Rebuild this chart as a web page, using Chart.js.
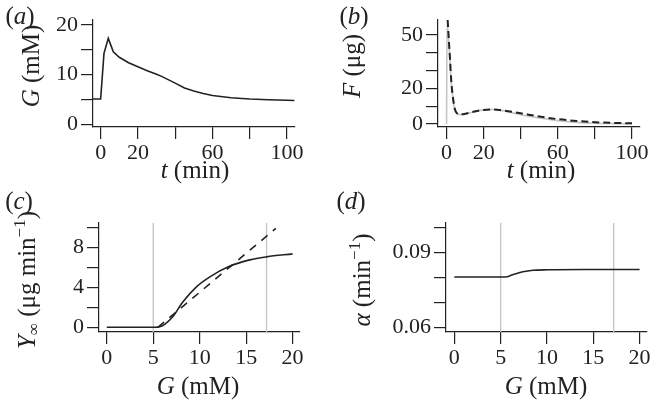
<!DOCTYPE html>
<html>
<head>
<meta charset="utf-8">
<script src="https://cdn.jsdelivr.net/npm/chart.js@4"></script>
<style>
  body { margin: 0; background: #fff; }
  #quadro { position: relative; width: 654px; height: 402px; }
  #quadro canvas { position: absolute; left: 0; top: 0; }
</style>
</head>
<body>
<div id="quadro">
  <canvas id="painelA" width="654" height="402"></canvas>
  <canvas id="painelB" width="654" height="402"></canvas>
  <canvas id="painelC" width="654" height="402"></canvas>
  <canvas id="painelD" width="654" height="402"></canvas>
</div>
<script>
// ---- dados ----
// (a) glicose G (mM) ao longo do tempo t (min)
const tempoA = [-4.1, 0, 1.8, 4.1, 6.8, 10, 15, 20, 25, 30, 33, 40, 45, 50, 55, 60, 70, 80, 90, 100, 104];
const glicoseA = [5.1, 5.1, 14.3, 17.3, 14.6, 13.5, 12.4, 11.6, 10.8, 10.1, 9.6, 8.3, 7.3, 6.7, 6.2, 5.8, 5.35, 5.1, 4.95, 4.85, 4.8];

// (b) F (µg): curva tracejada e curva cinza
const tempoBTracejado = [0.6, 1.2, 1.9, 2.5, 3.2, 4, 4.6, 5.5, 6.5, 8, 10, 15, 20, 25, 30, 40, 50, 60, 70, 80, 90, 100];
const fBTracejado = [58.4, 48, 36, 25, 17, 11, 8, 6.2, 5.5, 5.4, 5.7, 7.0, 7.9, 8.1, 7.7, 6.0, 4.2, 2.7, 1.7, 1.0, 0.6, 0.4];
const tempoBCinza = [0, 0.3, 1.2, 1.9, 2.5, 3.2, 4, 4.6, 5.5, 6.5, 8, 10, 15, 20, 25, 30, 40, 50, 60, 70, 80, 90, 100];
const fBCinza = [0, 56, 47, 35, 24, 16.5, 10.5, 7.6, 6.0, 5.4, 5.3, 5.6, 6.9, 7.9, 8.1, 7.5, 5.2, 3.4, 1.9, 0.9, 0.4, 0.2, 0.1];

// (c) Y∞ em função de G
const gC = [0, 5.2, 5.7, 6.3, 7.1, 8.2, 9.65, 11.1, 13.2, 15.4, 17.2, 20];
const yC = [0, 0, 0.05, 0.35, 1.05, 2.55, 4.05, 5.05, 6.1, 6.75, 7.05, 7.35];
const gCTracejado = [5.5, 18.2];
const yCTracejado = [0, 9.9];

// (d) α em função de G
const gD = [0, 5.5, 6.3, 7.4, 8.5, 10, 14, 20];
const alfaD = [0.0802, 0.0802, 0.0811, 0.0823, 0.0829, 0.0831, 0.0832, 0.0832];

// linhas verticais cinza (G basal e G máximo)
const linhasG = [5.0, 17.2];

// marcas e rótulos dos eixos
const ticksTempo = [0, 20, 40, 60, 80, 100];
const rotulosTempo = ['0', '20', '', '60', '', '100'];
const ticksGA = [0, 5, 10, 15, 20];
const rotulosGA = ['0', '', '10', '', '20'];
const ticksF = [0, 10, 20, 30, 40, 50];
const rotulosF = ['0', '', '20', '', '', '50'];
const ticksG = [0, 5, 10, 15, 20];
const rotulosG = ['0', '5', '10', '15', '20'];
const ticksY = [0, 2, 4, 6, 8, 10];
const rotulosY = ['0', '', '4', '', '8', ''];
const ticksAlfa = [0.06, 0.07, 0.08, 0.09, 0.10];
const rotulosAlfa = ['0.06', '', '', '0.09', ''];

const SERIF = '"Liberation Serif", "DejaVu Serif", serif';
const COR_EIXO = '#222';
const COR_CINZA = '#c4c4c4';
const LARG_Y = 70;   // largura reservada para o eixo y
const ALT_X = 40;    // altura reservada para o eixo x

// junta dois arrays em pontos {x, y}
function pontos(xs, ys) {
  return xs.map((x, i) => ({ x: x, y: ys[i] }));
}

// eixo no estilo "destacado": só marcas para fora, sem grade
function eixo(min, max, valores, rotulos, horizontal) {
  return {
    type: 'linear',
    min: min,
    max: max,
    border: { display: true, color: COR_EIXO, width: 1.2 },
    grid: { drawOnChartArea: false, drawTicks: true, tickLength: 12, color: COR_EIXO, lineWidth: 1.2 },
    ticks: {
      autoSkip: false,
      maxRotation: 0,
      padding: horizontal ? 1 : 3,
      color: COR_EIXO,
      font: { family: SERIF, size: 22 },
      callback: (v, i) => rotulos[i]
    },
    afterBuildTicks: s => { s.ticks = valores.map(v => ({ value: v })); },
    afterFit: s => { if (horizontal) s.height = ALT_X; else s.width = LARG_Y; }
  };
}

// escreve texto com partes em itálico / sobrescrito / subscrito
function desenhaTexto(ctx, item) {
  const base = 25;
  const pecas = item.partes.map(p => {
    const pequeno = p.sup || p.sub;
    const tam = pequeno ? base * 0.68 : base;
    const fonte = (p.i ? 'italic ' : '') + tam + 'px ' + SERIF;
    ctx.font = fonte;
    return { t: p.t, fonte: fonte, w: ctx.measureText(p.t).width, dy: p.sup ? -base * 0.3 : (p.sub ? base * 0.25 : 0) };
  });
  const total = pecas.reduce((s, p) => s + p.w, 0);
  ctx.save();
  ctx.translate(item.x, item.y);
  if (item.rot) ctx.rotate(-Math.PI / 2);
  ctx.textBaseline = 'middle';
  ctx.textAlign = 'left';
  ctx.fillStyle = COR_EIXO;
  let x = -total / 2;
  pecas.forEach(p => {
    ctx.font = p.fonte;
    ctx.fillText(p.t, x, p.dy);
    x += p.w;
  });
  ctx.restore();
}

function pluginTextos(itens) {
  return {
    id: 'textos',
    afterDraw(chart) {
      itens.forEach(item => desenhaTexto(chart.ctx, item));
    }
  };
}

function linhaVertical(g, yMin, yMax) {
  return {
    data: [{ x: g, y: yMin }, { x: g, y: yMax }],
    borderColor: COR_CINZA,
    borderWidth: 1.3,
    pointRadius: 0
  };
}

// area = [esquerda, direita, topo, base] da área de plotagem, em pixels da página
function criaPainel(id, datasets, escalaX, escalaY, area, textos) {
  const padding = {
    left: area[0] - LARG_Y,
    right: 654 - area[1],
    top: area[2],
    bottom: 402 - area[3] - ALT_X
  };
  return new Chart(document.getElementById(id), {
    type: 'line',
    data: { datasets: datasets },
    options: {
      responsive: false,
      animation: false,
      events: [],
      layout: { padding: padding, autoPadding: false },
      plugins: { legend: { display: false }, tooltip: { enabled: false } },
      scales: { x: escalaX, y: escalaY }
    },
    plugins: [pluginTextos(textos)]
  });
}

// (a)
criaPainel('painelA', [{
    data: pontos(tempoA, glicoseA),
    borderColor: COR_EIXO, borderWidth: 1.6, pointRadius: 0, tension: 0
  }],
  eixo(-4.1, 104.3, ticksTempo, rotulosTempo, true),
  eixo(-0.54, 21.0, ticksGA, rotulosGA, false),
  [93, 295, 20, 127],
  [
    { x: 20, y: 17, partes: [{ t: '(' }, { t: 'a', i: true }, { t: ')' }] },
    { x: 32, y: 66, rot: true, partes: [{ t: 'G', i: true }, { t: ' (mM)' }] },
    { x: 195, y: 171, partes: [{ t: 't', i: true }, { t: ' (min)' }] }
  ]);

// (b)
criaPainel('painelB', [{
    data: pontos(tempoBTracejado, fBTracejado),
    borderColor: COR_EIXO, borderWidth: 2, borderDash: [7, 4], pointRadius: 0, cubicInterpolationMode: 'monotone'
  }, {
    data: pontos(tempoBCinza, fBCinza),
    borderColor: COR_CINZA, borderWidth: 1.6, pointRadius: 0, cubicInterpolationMode: 'monotone'
  }],
  eixo(-4.6, 104.3, ticksTempo, rotulosTempo, true),
  eixo(-1.7, 58.4, ticksF, rotulosF, false),
  [438, 640, 20, 127],
  [
    { x: 354, y: 17, partes: [{ t: '(' }, { t: 'b', i: true }, { t: ')' }] },
    { x: 353, y: 66, rot: true, partes: [{ t: 'F', i: true }, { t: ' (μg)' }] },
    { x: 541, y: 171, partes: [{ t: 't', i: true }, { t: ' (min)' }] }
  ]);

// (c)
criaPainel('painelC', [{
    data: pontos(gC, yC),
    borderColor: COR_EIXO, borderWidth: 1.6, pointRadius: 0, cubicInterpolationMode: 'monotone'
  }, {
    data: pontos(gCTracejado, yCTracejado),
    borderColor: COR_EIXO, borderWidth: 1.6, borderDash: [8, 7], pointRadius: 0
  }].concat(linhasG.map(g => linhaVertical(g, -0.47, 10.44))),
  eixo(-0.84, 20.8, ticksG, rotulosG, true),
  eixo(-0.47, 10.44, ticksY, rotulosY, false),
  [99, 300, 223, 332],
  [
    { x: 19, y: 202, partes: [{ t: '(' }, { t: 'c', i: true }, { t: ')' }] },
    { x: 28, y: 280, rot: true, partes: [{ t: 'Y', i: true }, { t: '∞', sub: true }, { t: ' (μg min' }, { t: '−1', sup: true }, { t: ')' }] },
    { x: 198, y: 387, partes: [{ t: 'G', i: true }, { t: ' (mM)' }] }
  ]);

// (d)
criaPainel('painelD', [{
    data: pontos(gD, alfaD),
    borderColor: COR_EIXO, borderWidth: 1.6, pointRadius: 0, cubicInterpolationMode: 'monotone'
  }].concat(linhasG.map(g => linhaVertical(g, 0.0581, 0.1019))),
  eixo(-0.9, 20.8, ticksG, rotulosG, true),
  eixo(0.0581, 0.1019, ticksAlfa, rotulosAlfa, false),
  [446, 647, 223, 332],
  [
    { x: 351, y: 202, partes: [{ t: '(' }, { t: 'd', i: true }, { t: ')' }] },
    { x: 363, y: 280, rot: true, partes: [{ t: 'α', i: true }, { t: ' (min' }, { t: '−1', sup: true }, { t: ')' }] },
    { x: 546, y: 387, partes: [{ t: 'G', i: true }, { t: ' (mM)' }] }
  ]);
</script>
</body>
</html>
